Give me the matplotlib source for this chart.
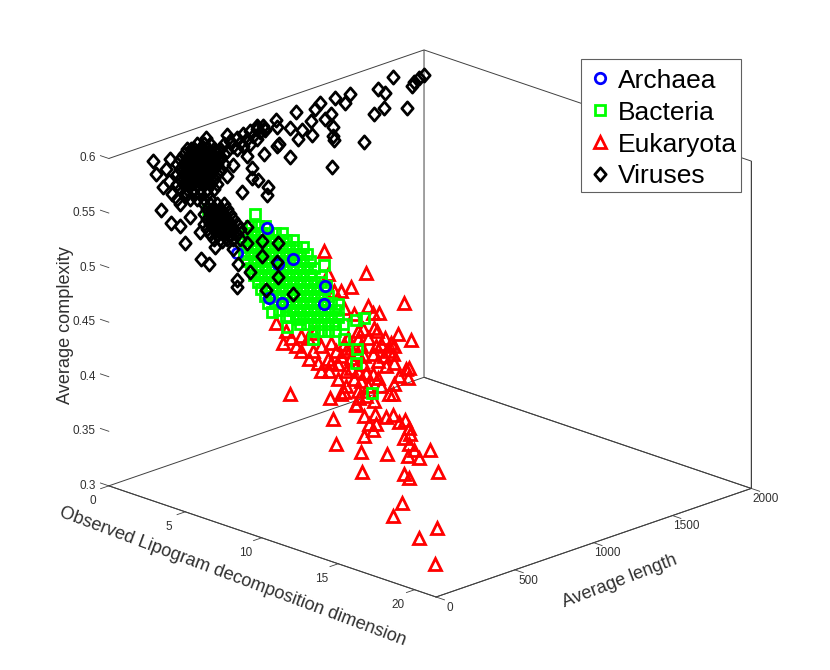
import matplotlib
matplotlib.use("Agg")
import matplotlib.pyplot as plt
from matplotlib.lines import Line2D
from matplotlib.patches import Rectangle
from matplotlib.path import Path
from mpl_toolkits.mplot3d import proj3d

plt.rcParams["font.family"] = ["Liberation Sans", "DejaVu Sans"]

# Values read off a 2D view of a 3D scatter: the depth of each point can't be
# recovered, so one coordinate per class is a single estimated value.
archaea_dim = [5.26, 8.21, 7.36, 7.95, 8.93, 7.23, 11.02, 10.95]
archaea_len = [300] * len(archaea_dim)
archaea_cpx = [.5236, .4918, .4923, .5261, .5353, .5556, .5204, .5037]

bacteria_dim = [
    6.18, 6.64, 7.10,
    5.92, 6.38, 6.83, 7.29, 7.75, 8.21,
    5.72, 6.18, 6.64, 7.10, 7.55, 8.01, 8.47, 8.93,
    5.92, 6.38, 6.83, 7.29, 7.75, 8.21, 8.67, 9.12, 9.58,
    5.72, 6.18, 6.64, 7.10, 7.55, 8.01, 8.47, 8.93, 9.38, 9.84,
    5.92, 6.38, 6.83, 7.29, 7.75, 8.21, 8.67, 9.12, 9.58, 10.04,
    6.18, 6.64, 7.10, 7.55, 8.01, 8.47, 8.93, 9.38, 9.84, 10.30,
    6.38, 6.83, 7.29, 7.75, 8.21, 8.67, 9.12, 9.58, 10.04,
    6.64, 7.10, 7.55, 8.01, 8.47, 8.93, 9.38, 9.84, 10.30, 10.76,
    6.83, 7.29, 7.75, 8.21, 8.67, 9.12, 9.58, 10.04, 10.50, 10.96,
    7.10, 7.55, 8.01, 8.47, 8.93, 9.38, 9.84, 10.30, 10.76, 11.22,
    7.29, 7.75, 8.21, 8.67, 9.12, 9.58, 10.04, 10.50, 10.96, 11.42,
    8.01, 8.47, 8.93, 9.38, 9.84, 10.30, 10.76, 11.22, 11.67,
    8.67, 9.12, 9.58, 10.04, 10.50, 10.96, 11.42, 11.87,
    9.38, 9.84, 10.30, 10.76, 11.22, 11.67,
    10.30, 10.76, 11.22, 11.67,
    3.37, 6.44, 10.95, 10.76, 7.55, 8.47, 8.53, 9.32, 10.23, 12.26,
    12.20, 11.87, 13.05, 13.57, 11.08, 13.11, 13.05, 14.09,
]
bacteria_len = [300] * len(bacteria_dim)
bacteria_cpx = [
    .5525, .5546, .5568,
    .5449, .5470, .5492, .5513, .5534, .5556,
    .5376, .5397, .5418, .5440, .5461, .5483, .5504, .5526,
    .5321, .5342, .5364, .5385, .5406, .5428, .5449, .5471, .5492,
    .5249, .5270, .5291, .5313, .5334, .5356, .5377, .5399, .5420, .5441,
    .5194, .5215, .5237, .5258, .5279, .5301, .5322, .5344, .5365, .5387,
    .5142, .5163, .5185, .5206, .5228, .5249, .5271, .5292, .5313, .5335,
    .5087, .5109, .5130, .5151, .5173, .5194, .5216, .5237, .5259,
    .5035, .5057, .5078, .5100, .5121, .5143, .5164, .5185, .5207, .5228,
    .4981, .5002, .5023, .5045, .5066, .5088, .5109, .5131, .5152, .5173,
    .4930, .4951, .4973, .4994, .5016, .5037, .5058, .5080, .5101, .5123,
    .4875, .4896, .4918, .4939, .4961, .4982, .5004, .5025, .5046, .5068,
    .4845, .4866, .4888, .4909, .4930, .4952, .4973, .4995, .5016,
    .4811, .4833, .4854, .4876, .4897, .4918, .4940, .4961,
    .4781, .4802, .4824, .4845, .4867, .4888,
    .4760, .4781, .4803, .4824,
    .5548, .5646, .5392, .5283, .4805, .4811, .4714, .4824, .4684, .4779,
    .4913, .5080, .4989, .5032, .5208, .4727, .4597, .4372,
]

eukaryota_dim = [
    11.54, 11.74, 13.37, 13.44, 15.07, 13.57, 14.29, 13.05, 13.90, 14.16,
    13.57, 14.36, 15.01, 15.47, 15.86, 16.25, 16.51, 16.58, 16.19, 16.51,
    16.84, 16.45, 17.17, 17.89, 16.19, 16.51, 18.41, 16.06, 15.47, 18.34,
    17.17, 18.21, 8.73, 11.35, 12.07, 12.26, 13.18, 13.05, 13.24, 14.22,
    15.21, 15.53, 15.47, 16.32, 16.51, 16.45, 15.79, 16.64, 16.19, 13.83,
    14.55, 14.16, 14.22, 8.27, 8.80, 7.82, 9.12, 9.45, 9.97, 10.56,
    11.28, 11.41, 12.07, 12.39, 12.92, 13.37, 13.70, 14.49, 14.88, 15.34,
    15.47, 15.53, 15.01, 14.36, 13.50, 13.18, 13.83, 12.26, 11.41, 10.76,
    9.91, 10.30, 12.72, 11.87, 11.22, 13.57, 14.16, 15.53, 15.21, 13.18,
    14.16, 12.72, 13.50, 14.49, 10.95, 13.70, 12.72, 12.07, 11.61, 11.22,
    12.92, 12.26, 13.18, 12.52, 14.68, 12.72, 14.42, 13.70, 14.68, 13.83,
    12.39, 11.74, 10.23, 9.45, 8.47, 14.95, 13.37, 12.39, 13.18, 15.86,
    10.76, 11.87,
]
eukaryota_len = [300] * len(eukaryota_dim)
eukaryota_cpx = [
    .4016, .3797, .3801, .3621, .3862, .4138, .4189, .4214, .4080, .4038,
    .3956, .4102, .4196, .4236, .4190, .4227, .4166, .4115, .4060, .4020,
    .3981, .3907, .3923, .4030, .3731, .3710, .3853, .3461, .3315, .3340,
    .3194, .3005, .4112, .4198, .4268, .4296, .4347, .4223, .4286, .4305,
    .4415, .4522, .4428, .4695, .4713, .4619, .4990, .4975, .5300, .5153,
    .5124, .5105, .4971, .4556, .4626, .4717, .4569, .4538, .4489, .4481,
    .4442, .4521, .4614, .4494, .4445, .4448, .4536, .4683, .4746, .4886,
    .4793, .4714, .4661, .4814, .4929, .4821, .4862, .4734, .4703, .4645,
    .4678, .4742, .4627, .4532, .4548, .4685, .4548, .4869, .4807, .4685,
    .4731, .4536, .4609, .4528, .5520, .5457, .5275, .5207, .5186, .5323,
    .5037, .5062, .4894, .4801, .4847, .4718, .4953, .4327, .4464, .4424,
    .4357, .4645, .4575, .4675, .4674, .4914, .4768, .4676, .4530, .4610,
    .4417, .4396,
]

viruses_len = [
    1903, 1872, 1840, 1829, 1703, 1609, 1657, 1434, 1403, 1335,
    1651, 1792, 1588, 1525, 1321, 1241, 1213, 1314, 1272, 1184,
    1093, 963, 967, 1051, 1131, 1325, 1194, 1104, 1325, 1329,
    984, 971, 1051, 889, 887, 841, 778, 810, 810, 852,
    910, 908, 746, 652, 694, 656, 519, 185, 290, 200,
    248, 235, 389, 298, 357, 488, 540, 715, 715, 725,
    484, 420, 578, 778, 782, 620, 694, 378, 305, 263,
    284, 425, 873, 967, 978, 873, 1072, 900, 978, 799,
    463, 505, 547,
    399, 441, 484, 526, 568, 610,
    378, 420, 463, 505, 547, 589, 631,
    357, 399, 441, 484, 526, 568, 610,
    336, 378, 420, 463, 505, 547, 589, 631,
    357, 399, 441, 484, 526, 568, 610,
    336, 378, 420, 463, 505, 547, 589,
    357, 399, 441, 484, 526, 568,
    336, 378, 420, 463, 505, 547, 589,
    357, 399, 441, 484, 526, 568,
    399, 441, 484, 526,
    336, 420, 463, 505, 547,
    357, 505, 547, 589, 631,
    526, 568, 610, 652,
    505, 547, 589, 631, 673,
    526, 568, 610, 652, 694,
    505, 547, 589, 631, 673, 715,
    526, 568, 610, 652, 694, 736,
    547, 589, 631, 673, 715,
    568, 610, 652, 694, 736,
    631, 673, 715, 757, 799, 841, 883, 694, 736, 778,
    820, 862, 652, 715, 757, 799, 841, 894,
]
viruses_dim = [1.0] * len(viruses_len)
viruses_cpx = [
    .5863, .5855, .5829, .5803, .5948, .5884, .5828, .5925, .5856, .5936,
    .5686, .5615, .5663, .5439, .5310, .5937, .5899, .5803, .5775, .5805,
    .5929, .5925, .5855, .5804, .5749, .5676, .5666, .5681, .5591, .5559,
    .5692, .5677, .5536, .5648, .5878, .5925, .5683, .5561, .5470, .5424,
    .5334, .5262, .5373, .5564, .5644, .5936, .5974, .5935, .5903, .5806,
    .5666, .5460, .5079, .5306, .5255, .4880, .4809, .4575, .4514, .4722,
    .5131, .5300, .4948, .5029, .4881, .4987, .4874, .5534, .5571, .5820,
    .5703, .5921, .4724, .4615, .4783, .4860, .4274, .4396, .4473, .4609,
    .5948, .5927, .5905,
    .5933, .5912, .5891, .5870, .5849, .5828,
    .5899, .5878, .5857, .5836, .5814, .5793, .5772,
    .5863, .5842, .5821, .5800, .5779, .5758, .5737,
    .5829, .5808, .5787, .5766, .5745, .5723, .5702, .5681,
    .5772, .5751, .5730, .5709, .5688, .5667, .5646,
    .5737, .5716, .5695, .5674, .5653, .5631, .5610,
    .5681, .5660, .5639, .5618, .5597, .5576,
    .5646, .5625, .5604, .5583, .5562, .5540, .5519,
    .5590, .5569, .5548, .5527, .5506, .5485,
    .5523, .5502, .5481, .5460,
    .5509, .5467, .5446, .5425, .5403,
    .5453, .5380, .5358, .5337, .5316,
    .5323, .5302, .5281, .5260,
    .5289, .5267, .5246, .5225, .5204,
    .5232, .5211, .5190, .5169, .5148,
    .5197, .5175, .5154, .5133, .5112, .5091,
    .5141, .5120, .5099, .5078, .5057, .5035,
    .5084, .5063, .5042, .5021, .5000,
    .5029, .5008, .4987, .4966, .4944,
    .5863, .5872, .5882, .5891, .5901, .5895, .5904, .5817, .5825, .5835,
    .5844, .5863, .5792, .5775, .5785, .5779, .5804, .5868,
]

x_ticks = [0, 5, 10, 15, 20]
y_ticks = [0, 500, 1000, 1500, 2000]
z_ticks = [0.3, 0.35, 0.4, 0.45, 0.5, 0.55, 0.6]
z_tick_labels = ["0.3", "0.35", "0.4", "0.45", "0.5", "0.55", "0.6"]

X_MAX = 21.4
LINE = "#404040"
TEXT = "#303030"
DIAMOND = Path([(0, 1), (0.86, 0), (0, -1), (-0.86, 0), (0, 1)], closed=True)

fig = plt.figure(figsize=(8.3, 6.7), dpi=100)
ax = fig.add_axes([65.7 / 830, -17.8 / 670, 709.5 / 830, 709.5 / 670], projection="3d")
ax.set_proj_type("ortho")
ax.view_init(elev=20, azim=-45.2)
ax.set_box_aspect((466, 452, 352))
ax.computed_zorder = False
ax.patch.set_visible(False)

series = [
    ("Archaea", archaea_dim, archaea_len, archaea_cpx, "o", "#0000ff", 7.5, 3.5),
    ("Bacteria", bacteria_dim, bacteria_len, bacteria_cpx, "s", "#00ff00", 6.5, 3),
    ("Eukaryota", eukaryota_dim, eukaryota_len, eukaryota_cpx, "^", "#ff0000", 8, 2),
    ("Viruses", viruses_dim, viruses_len, viruses_cpx, DIAMOND, "#000000", 9.5, 4),
]
handles = []
for name, xs, ys, zs, marker, color, size, order in series:
    ax.plot(xs, ys, zs, linestyle="None", marker=marker, markersize=size,
            markerfacecolor="none", markeredgecolor=color, markeredgewidth=2,
            zorder=order)
    handles.append(Line2D([], [], linestyle="None", marker=marker, markersize=size,
                          markerfacecolor="none", markeredgecolor=color,
                          markeredgewidth=2, label=name))

ax.set_xlim(0, X_MAX, view_margin=0)
ax.set_ylim(0, 2000, view_margin=0)
ax.set_zlim(0.3, 0.6, view_margin=0)
ax.set_xticks([])
ax.set_yticks([])
ax.set_zticks([])
ax.grid(False)

for axis in (ax.xaxis, ax.yaxis, ax.zaxis):
    axis.pane.set_alpha(None)
    axis.pane.set_facecolor((1, 1, 1, 0))
    axis.pane.set_edgecolor(LINE)
    axis.pane.set_linewidth(0.7)
    axis.line.set_color(LINE)
    axis.line.set_linewidth(0.7)


def label_at(x, y, z, text, **kwargs):
    """Text at a 3D data position, kept as plain 2D text after projecting it."""
    px, py, _ = proj3d.proj_transform(x, y, z, ax.get_proj())
    kwargs.setdefault("ha", "center")
    ax.text2D(px, py, text, transform=ax.transData, va="center", color=TEXT, **kwargs)


# ticks and their labels by hand: mplot3d can't put them where the reference has them
for t in x_ticks:
    ax.plot([t, t], [0, -52], [0.3, 0.3], color=LINE, lw=0.6, zorder=1)
    label_at(t, -104, 0.2915, str(t), fontsize=8.5)
for t in y_ticks:
    ax.plot([X_MAX, X_MAX + 0.55], [t, t], [0.3, 0.3], color=LINE, lw=0.6, zorder=1)
    label_at(X_MAX + 0.915, t, 0.2945, str(t), fontsize=8.5)
for t, lab in zip(z_ticks, z_tick_labels):
    ax.plot([0, -0.55], [0, 0], [t, t], color=LINE, lw=0.6, zorder=1)
    label_at(-0.85, 0, t - 0.004, lab, ha="right", fontsize=8.5)

label_at(10.7, -255, 0.28, "Observed Lipogram decomposition dimension",
         rotation=-20.5, fontsize=13.1)
label_at(X_MAX + 1.73, 1000, 0.2725, "Average length", rotation=21, fontsize=13.1)
label_at(-2.8, 0, 0.4336, "Average complexity", rotation=90, fontsize=13.1)

# legend box drawn apart so its size doesn't depend on the legend padding
fig.add_artist(Rectangle((581 / 830, 1 - 192 / 670), 160 / 830, 133 / 670,
                         transform=fig.transFigure, facecolor="white",
                         edgecolor="#606060", linewidth=0.8, zorder=5))
leg = fig.legend(handles=handles, loc="upper left", bbox_to_anchor=(580 / 830, 1 - 64.5 / 670),
                 fontsize=19, numpoints=1, frameon=False, borderpad=0.16, borderaxespad=0,
                 labelspacing=0.3, handlelength=1.21, handletextpad=0.08)
leg.set_zorder(6)

fig.savefig("out.png", dpi=100)
